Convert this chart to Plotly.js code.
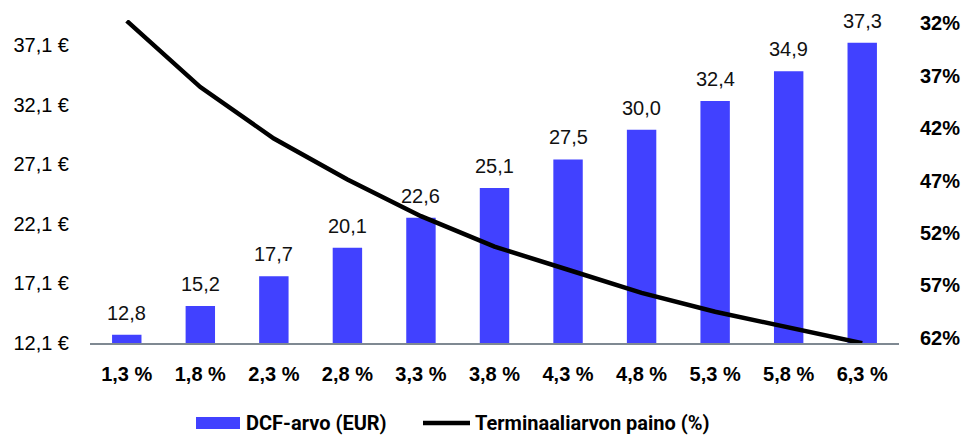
<!DOCTYPE html>
<html>
<head>
<meta charset="utf-8">
<script src="https://cdn.plot.ly/plotly-3.0.1.min.js"></script>
<style>html,body{margin:0;padding:0;background:#fff;}#chart{width:968px;height:436px;}</style>
</head>
<body>
<div id="chart"></div>
<script>
const categories = ["1,3 %","1,8 %","2,3 %","2,8 %","3,3 %","3,8 %","4,3 %","4,8 %","5,3 %","5,8 %","6,3 %"];
const dcfValues = [12.8, 15.2, 17.7, 20.1, 22.6, 25.1, 27.5, 30.0, 32.4, 34.9, 37.3];
const terminalWeight = [31.8, 38.1, 43.0, 46.9, 50.4, 53.3, 55.5, 57.7, 59.5, 61.0, 62.5];
const leftTickVals = [12.1, 17.1, 22.1, 27.1, 32.1, 37.1];
const leftTickText = ["12,1 €", "17,1 €", "22,1 €", "27,1 €", "32,1 €", "37,1 €"];
const rightTickVals = [32, 37, 42, 47, 52, 57, 62];
const rightTickText = ["32%", "37%", "42%", "47%", "52%", "57%", "62%"];
const seriesNames = ["DCF-arvo (EUR)", "Terminaaliarvon paino (%)"];

const barColor = "#4141ff";
const FONT = "'Liberation Sans', Arial, Helvetica, sans-serif";
const fmt = v => v.toFixed(1).replace(".", ",");

const traces = [
  {
    type: "bar", x: categories, y: dcfValues, name: seriesNames[0],
    marker: {color: barColor}, hoverinfo: "skip", showlegend: false
  },
  {
    type: "scatter", mode: "lines", x: categories, y: terminalWeight, yaxis: "y2",
    name: seriesNames[1], line: {color: "#000", width: 4.5}, showlegend: false,
    cliponaxis: false
  }
];

const annotations = categories.map((c, i) => ({
  x: c, y: dcfValues[i], xref: "x", yref: "y", text: fmt(dcfValues[i]),
  showarrow: false, yanchor: "bottom", yshift: 9,
  font: {family: FONT, size: 20, color: "#111"}
}));

// legend drawn manually
annotations.push({
  xref: "paper", yref: "paper", x: (244 - 90) / 809, y: -(423 - 343) / 323,
  xanchor: "left", yanchor: "middle", showarrow: false, text: "<b>" + seriesNames[0] + "</b>",
  font: {family: "Roboto, 'Liberation Sans'", size: 20, color: "#000"}
});
annotations.push({
  xref: "paper", yref: "paper", x: (473 - 90) / 809, y: -(423 - 343) / 323,
  xanchor: "left", yanchor: "middle", showarrow: false, text: "<b>" + seriesNames[1] + "</b>",
  font: {family: "Roboto, 'Liberation Sans'", size: 20, color: "#000"}
});

const shapes = [
  {type: "rect", xref: "paper", yref: "paper",
   x0: (196 - 90) / 809, x1: (240 - 90) / 809,
   y0: -(429 - 343) / 323, y1: -(417 - 343) / 323,
   fillcolor: barColor, line: {width: 0}},
  {type: "line", xref: "paper", yref: "paper",
   x0: (423 - 90) / 809, x1: (470 - 90) / 809,
   y0: -(423 - 343) / 323, y1: -(423 - 343) / 323,
   line: {color: "#000", width: 4.5}}
];

const layout = {
  width: 968, height: 436,
  margin: {l: 90, r: 69, t: 20, b: 93},
  paper_bgcolor: "#fff", plot_bgcolor: "#fff",
  font: {family: FONT},
  bargap: 0.6,
  showlegend: false,
  xaxis: {
    type: "category", showgrid: false, zeroline: false,
    showline: true, linecolor: "#7f8992", linewidth: 2,
    ticks: "", ticklabelstandoff: 12,
    tickfont: {family: FONT, size: 20, color: "#000", weight: "bold"}
  },
  yaxis: {
    range: [12.1, 39.2], showgrid: false, zeroline: false, showline: false,
    tickvals: leftTickVals, ticktext: leftTickText,
    ticks: "", ticklabelstandoff: 20,
    tickfont: {family: FONT, size: 20, color: "#000"}
  },
  yaxis2: {
    overlaying: "y", side: "right", range: [62.48, 31.71],
    showgrid: false, zeroline: false, showline: false,
    tickvals: rightTickVals, ticktext: rightTickText,
    ticks: "", ticklabelstandoff: 20,
    tickfont: {family: FONT, size: 20, color: "#000", weight: "bold"}
  },
  annotations: annotations,
  shapes: shapes
};

Plotly.newPlot("chart", traces, layout, {displayModeBar: false, staticPlot: true});
</script>
</body>
</html>
